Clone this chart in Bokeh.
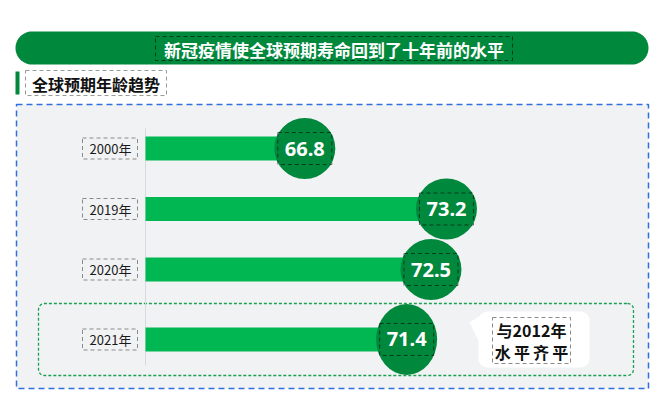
import numpy as np
from bokeh.plotting import figure
from bokeh.models import Range1d, ColumnDataSource, CDSView, IndexFilter
from bokeh.core.properties import value
from bokeh.embed import file_html
from bokeh.resources import INLINE

# ---------------- data ----------------
title = "新冠疫情使全球预期寿命回到了十年前的水平"
subtitle = "全球预期年龄趋势"
years = ["2000年", "2019年", "2020年", "2021年"]
life_exp = [66.8, 73.2, 72.5, 71.4]
highlight_year = "2021年"
note_lines = ["与2012年", "水\u2009平\u2009齐\u2009平"]

# ---------------- layout / style ----------------
W, H = 654, 392
X0, Y0 = 0, 0
CJK = value("Noto Sans CJK SC")
NUM = value("Noto Sans")
DARK_GREEN = "#00883c"
BAR_GREEN = "#00b752"
GRAY_BG = "#f1f2f4"

axis_start = 59.6      # value at the bar baseline
bar_left_px = 145
px_per_unit = 22.13
row0_px = 148
row_px = 60.5
highlight_gap = 0.157

p = figure(width=W, height=H, x_range=Range1d(X0, X0 + W), y_range=Range1d(Y0 + H, Y0),
           output_backend="svg", toolbar_location=None, x_axis_type=None, y_axis_type=None,
           min_border=0)
p.min_border_left = p.min_border_right = p.min_border_top = p.min_border_bottom = 0
p.outline_line_color = None
p.background_fill_color = "white"
p.border_fill_color = "white"
p.xgrid.visible = False
p.ygrid.visible = False

p.extra_x_ranges = {"val": Range1d(axis_start + (X0 - bar_left_px) / px_per_unit,
                                   axis_start + (X0 + W - bar_left_px) / px_per_unit)}
p.extra_y_ranges = {"row": Range1d((Y0 + H - row0_px) / row_px, (Y0 - row0_px) / row_px)}


def rrect(x0, y0, x1, y1, r, n=8):
    xs, ys = [], []
    corners = [(x1 - r, y0 + r, -90, 0), (x1 - r, y1 - r, 0, 90),
               (x0 + r, y1 - r, 90, 180), (x0 + r, y0 + r, 180, 270)]
    for cx, cy, a0, a1 in corners:
        for a in np.linspace(np.radians(a0), np.radians(a1), n):
            xs.append(cx + r * np.cos(a))
            ys.append(cy + r * np.sin(a))
    return xs, ys


# title banner
bx, by = rrect(15, 31, 648, 64, 16.5, 16)
p.patch(bx, by, fill_color=DARK_GREEN, line_color=None)
p.quad(left=155, right=512, top=36, bottom=60, fill_color=None, line_color="black",
       line_alpha=0.55, line_dash="4 3", line_width=1)
p.text(x=[333.5], y=[48.5], text=[title], text_font=CJK, text_font_style="bold",
       text_font_size="17px", text_color="white", text_align="center", text_baseline="middle")

# subtitle
p.quad(left=15, right=19, top=71, bottom=94, fill_color=DARK_GREEN, line_color=None)
p.quad(left=25, right=166, top=70, bottom=95, fill_color=None, line_color="#9a9a9a",
       line_dash="4 3", line_width=1)
p.text(x=[95.5], y=[83], text=[subtitle], text_font=CJK, text_font_style="bold",
       text_font_size="16px", text_color="#111111", text_align="center", text_baseline="middle")

# chart panel
p.quad(left=16, right=648, top=104, bottom=388, fill_color=GRAY_BG, line_color="#2f6fde",
       line_dash="6 4", line_width=1.5)

# highlight box
hx, hy = rrect(38, 303, 633, 375, 6)
p.patch(hx, hy, fill_color=None, line_color="#1aa053", line_dash="3 2", line_width=1.3)

# axis line
p.segment(x0=[bar_left_px], y0=[128], x1=[bar_left_px], y1=[365], line_color="#d6d9dd", line_width=1)

# callout
cx, cy = rrect(478, 311, 589, 367, 9)
p.patch(cx, cy, fill_color="white", line_color=None)
p.patch([469, 480, 480], [322, 315, 344], fill_color="white", line_color=None)
p.quad(left=492, right=570, top=317, bottom=363, fill_color=None, line_color="#8a8a8a",
       line_dash="4 3", line_width=1)
p.text(x=[531, 531], y=[329.5, 351.5], text=note_lines, text_font=CJK, text_font_style="bold",
       text_font_size="16px", text_color="#111111", text_align="center", text_baseline="middle")

# data
rows = [i + (highlight_gap if y == highlight_year else 0) for i, y in enumerate(years)]
src = ColumnDataSource(dict(year=years, value=life_exp, row=rows,
                            label=[f"{v:.1f}" for v in life_exp]))
hi = [i for i, y in enumerate(years) if y == highlight_year]
lo = [i for i, y in enumerate(years) if y != highlight_year]

p.hbar(y="row", left=axis_start, right="value", height=24 / row_px, source=src,
       x_range_name="val", y_range_name="row", fill_color=BAR_GREEN, line_color=None)

p.circle(x="value", y="row", radius=30.5, radius_units="screen", source=src,
         view=CDSView(filter=IndexFilter(lo)), x_range_name="val", y_range_name="row",
         fill_color=DARK_GREEN, line_color=None)
p.ellipse(x="value", y="row", width=61, height=71, width_units="screen", height_units="screen",
          source=src, view=CDSView(filter=IndexFilter(hi)), x_range_name="val", y_range_name="row",
          fill_color=DARK_GREEN, line_color=None)

p.rect(x="value", y="row", width=54, height=32, width_units="screen", height_units="screen",
       source=src, x_range_name="val", y_range_name="row", fill_color=None, line_color="black",
       line_alpha=0.55, line_dash="4 3", line_width=1)
p.text(x="value", y="row", text="label", source=src, x_range_name="val", y_range_name="row",
       text_font=NUM, text_font_style="bold", text_font_size="20px", text_color="white",
       text_align="center", text_baseline="middle")

# year labels
p.rect(x=109.5, y="row", width=55, height=21, width_units="screen", height_units="screen",
       source=src, y_range_name="row", fill_color=None, line_color="#8a8a8a",
       line_dash="4 3", line_width=1)
p.text(x=110, y="row", text="year", source=src, y_range_name="row", text_font=CJK,
       text_font_size="13px", text_color="#1a1a1a", text_align="center", text_baseline="middle")

open("out.html", "w").write(file_html(p, INLINE))
